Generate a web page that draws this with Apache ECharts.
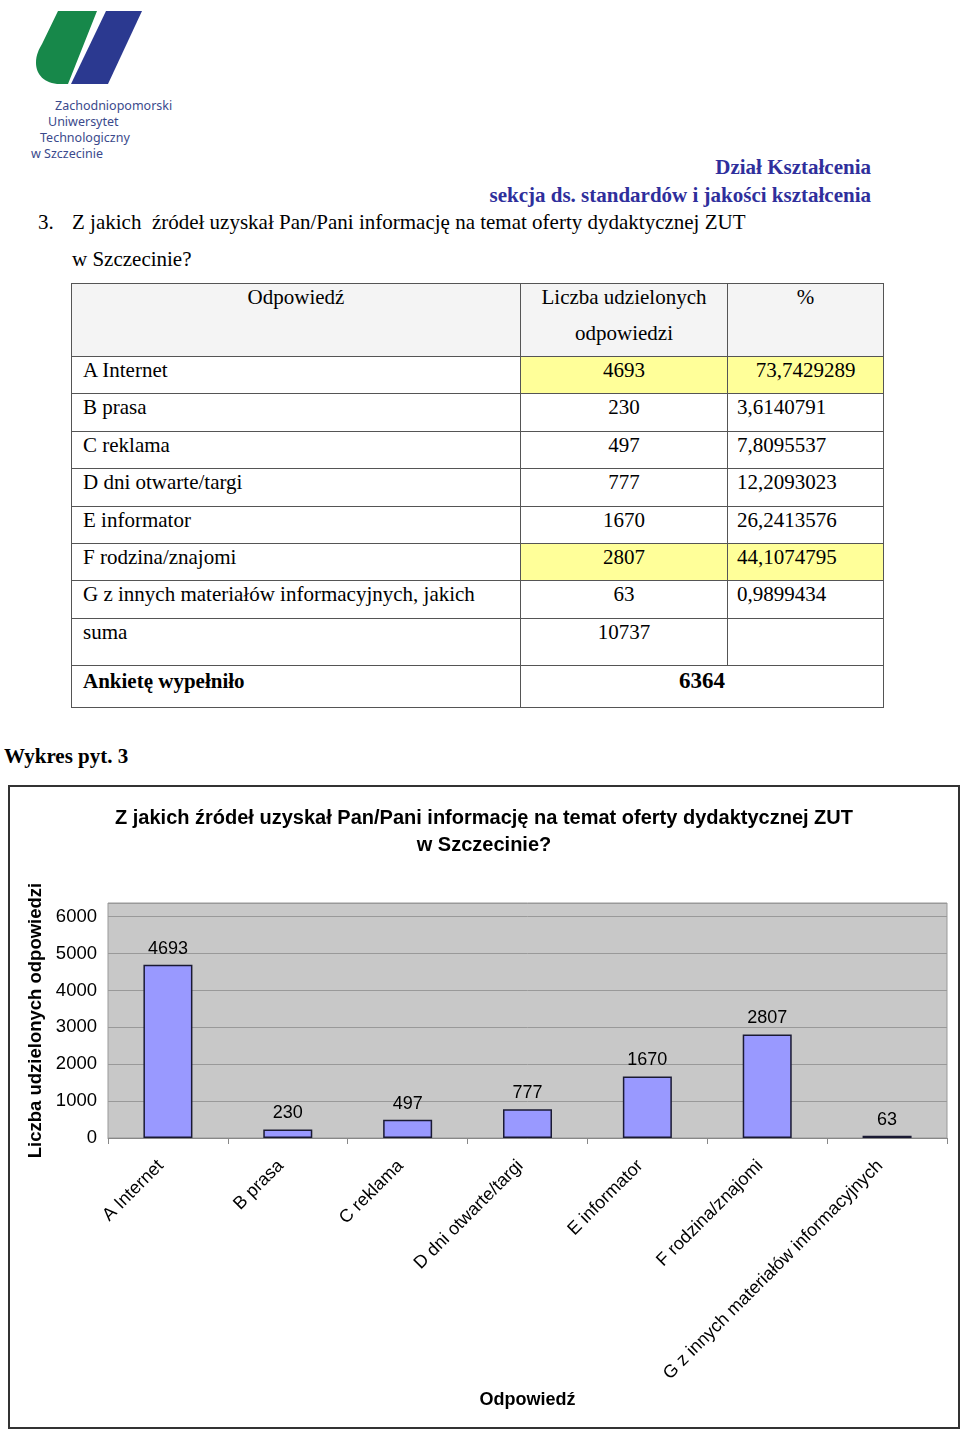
<!DOCTYPE html>
<html>
<head>
<meta charset="utf-8">
<script src="https://cdn.jsdelivr.net/npm/echarts@6/dist/echarts.min.js"></script>
<style>
  html, body { margin:0; padding:0; background:#fff; }
  body { width:960px; height:1431px; position:relative; overflow:hidden; font-family:"Liberation Serif","Times New Roman",serif; color:#000; }
  .abs { position:absolute; white-space:nowrap; }
  .logoTxt { font-family:"Noto Sans","Open Sans",sans-serif; font-size:12.5px; color:#3b4a8c; line-height:16px; }
  .hdr { font-weight:bold; color:#2f2f9c; font-size:21px; line-height:24px; right:89px; }
  .q { font-size:21px; line-height:24px; }
  table { position:absolute; left:71px; top:283px; width:812px; border-collapse:collapse; table-layout:fixed; font-size:21px; }
  td { border:1px solid #555; padding:0; vertical-align:top; line-height:27px; overflow:hidden; white-space:nowrap; }
  tr.head td { background:#f4f4f4; text-align:center; line-height:36px; }
  tr.head td div { position:relative; top:-5px; }
  td.c1 { padding-left:11px; }
  td.c2 { text-align:center; }
  td.c3 { padding-left:9px; }
  td.yel { background:#ffff99; }
  #chart { position:absolute; left:0; top:0; width:960px; height:1431px; }
</style>
</head>
<body>
<svg class="abs" style="left:0;top:0" width="200" height="100">
  <path d="M58,11 L97,11 L68,84 L60,84 C44,84 36,74 36,63 C36,55 39,49 42,44 Z" fill="#17884a"/>
  <path d="M106,11 L142,11 L108,84 L71,84 Z" fill="#2b3990"/>
</svg>
<div class="abs logoTxt" style="left:55px;top:98px">Zachodniopomorski</div>
<div class="abs logoTxt" style="left:48px;top:114px">Uniwersytet</div>
<div class="abs logoTxt" style="left:40px;top:130px">Technologiczny</div>
<div class="abs logoTxt" style="left:31px;top:146px">w Szczecinie</div>

<div class="abs hdr" style="top:155px">Dział Kształcenia</div>
<div class="abs hdr" style="top:183px">sekcja ds. standardów i jakości kształcenia</div>

<div class="abs q" style="left:38px;top:210px">3.</div>
<div class="abs q" style="left:72px;top:210px">Z jakich&nbsp; źródeł uzyskał Pan/Pani informację na temat oferty dydaktycznej ZUT</div>
<div class="abs q" style="left:72px;top:247px">w Szczecinie?</div>

<table id="tbl"></table>

<div class="abs" style="left:4px;top:744px;font-weight:bold;font-size:21px;line-height:24px">Wykres pyt. 3</div>

<div id="chart"></div>

<script>
// ---- data ----
const tableLabels = ['A Internet','B prasa','C reklama','D dni otwarte/targi','E informator','F rodzina/znajomi','G z innych materiałów informacyjnych, jakich'];
const tableCounts = [4693, 230, 497, 777, 1670, 2807, 63];
const tablePercents = ['73,7429289','3,6140791','7,8095537','12,2093023','26,2413576','44,1074795','0,9899434'];
const highlighted = [0, 5];
const sumTotal = 10737;
const respondents = 6364;

const categories = ['A Internet','B prasa','C reklama','D dni otwarte/targi','E informator','F rodzina/znajomi','G z innych materiałów informacyjnych'];
const counts = [4693, 230, 497, 777, 1670, 2807, 63];

// ---- table ----
(function(){
  const t = document.getElementById('tbl');
  let h = '<colgroup><col style="width:449px"><col style="width:207px"><col style="width:156px"></colgroup>';
  h += '<tr class="head" style="height:72px"><td><div>Odpowiedź</div></td><td><div>Liczba udzielonych<br>odpowiedzi</div></td><td><div>%</div></td></tr>';
  tableLabels.forEach((l,i)=>{
    const y = highlighted.includes(i) ? ' yel' : '';
    const c3style = i===0 ? ' style="text-align:center;padding-left:0"' : '';
    h += '<tr style="height:37.4px"><td class="c1">'+l+'</td><td class="c2'+y+'">'+tableCounts[i]+'</td><td class="c3'+y+'"'+c3style+'>'+tablePercents[i]+'</td></tr>';
  });
  h += '<tr style="height:47px"><td class="c1" style="line-height:26px">suma</td><td class="c2" style="line-height:26px">'+sumTotal+'</td><td></td></tr>';
  h += '<tr style="height:42px"><td class="c1" style="font-weight:bold;line-height:30px">Ankietę wypełniło</td><td colspan="2" style="text-align:center;font-weight:bold;font-size:23px;line-height:30px">'+respondents+'</td></tr>';
  t.innerHTML = h;
})();

// ---- chart ----
const chart = echarts.init(document.getElementById('chart'), null, {renderer:'canvas'});
const F = '"Liberation Sans", Arial, sans-serif';
chart.setOption({
  animation:false,
  textStyle:{fontFamily:F},
  graphic:[
    {type:'rect', shape:{x:9, y:786, width:950, height:642}, style:{fill:'none', stroke:'#333', lineWidth:2}, z:-1},
    {type:'text', x:484, y:805, style:{text:'Z jakich źródeł uzyskał Pan/Pani informację na temat oferty dydaktycznej ZUT\nw Szczecinie?', font:'bold 20px '+F, fill:'#000', textAlign:'center', lineHeight:27}}
  ],
  grid:{left:108, right:13, top:903, bottom:293, show:true, backgroundColor:'#c8c8c8', borderColor:'#999', borderWidth:1},
  xAxis:{
    type:'category', data:categories,
    name:'Odpowiedź', nameLocation:'middle', nameGap:253,
    nameTextStyle:{fontFamily:F, fontSize:18, fontWeight:'bold', color:'#000'},
    axisLine:{lineStyle:{color:'#888', width:1}},
    axisTick:{show:true, length:6, lineStyle:{color:'#888'}},
    axisLabel:{interval:0, rotate:45, fontSize:18, color:'#000', margin:18, padding:[0,10,0,0], fontFamily:F}
  },
  yAxis:{
    type:'value', min:0, max:6370, interval:1000,
    name:'Liczba udzielonych odpowiedzi', nameLocation:'middle', nameGap:60, nameRotate:90,
    nameTextStyle:{fontFamily:F, fontSize:18.5, fontWeight:'bold', color:'#000'},
    axisLine:{show:false}, axisTick:{show:false},
    axisLabel:{fontSize:18.5, color:'#000', margin:11, showMaxLabel:false, fontFamily:F, formatter:function(v){return String(v);}},
    splitLine:{lineStyle:{color:'#999', width:1}}
  },
  series:[{
    type:'bar', data:counts, barWidth:49,
    itemStyle:{color:'#9999ff', borderColor:'#1a1a33', borderWidth:1.5},
    label:{show:true, position:'top', distance:7, fontSize:18, color:'#000', fontFamily:F}
  }]
});
</script>
</body>
</html>
